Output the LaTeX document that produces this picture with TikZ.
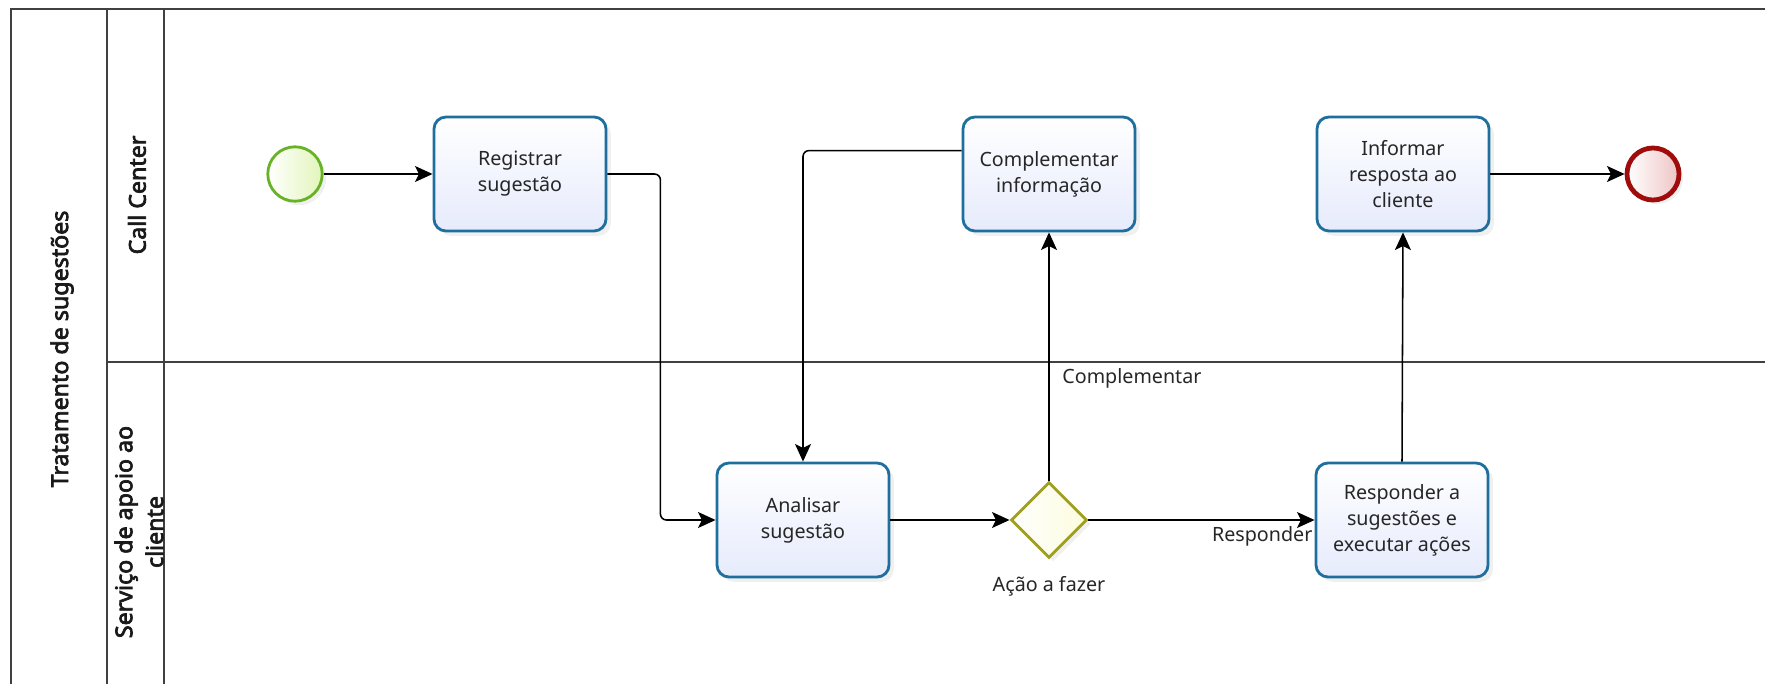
\documentclass[tikz,border=0pt]{standalone}
\usepackage{fontspec}
\setmainfont{Noto Sans}[AutoFakeBold=3]
\usepackage{xcolor}
\usepackage{tikz}
\usetikzlibrary{arrows.meta}
\usetikzlibrary{shapes.geometric}
\usetikzlibrary{shadows}

\definecolor{taskline}{RGB}{30,110,158}
\definecolor{taskfill}{RGB}{230,235,252}
\definecolor{startline}{RGB}{104,178,38}
\definecolor{startfill}{RGB}{226,245,186}
\definecolor{endline}{RGB}{160,12,12}
\definecolor{endfill}{RGB}{238,196,196}
\definecolor{gateline}{RGB}{158,160,30}
\definecolor{gatefill}{RGB}{252,252,222}

\tikzset{
  lane/.style={draw=black!75, line width=1.4pt},
  lanetitle/.style={rotate=90, align=center, text=black!90,
    font=\bfseries\fontsize{16.5}{22}\selectfont},
  task/.style={rectangle, rounded corners=0.3cm, draw=taskline, line width=2pt,
    top color=white, bottom color=taskfill,
    minimum width=4.3cm, minimum height=2.85cm,
    align=center, text=black!85, font=\fontsize{14}{18.5}\selectfont,
    drop shadow={opacity=0.12, shadow xshift=0.12cm, shadow yshift=-0.12cm}},
  startev/.style={circle, draw=startline, line width=2pt, minimum size=1.36cm,
    left color=white, right color=startfill,
    drop shadow={opacity=0.12, shadow xshift=0.1cm, shadow yshift=-0.1cm}},
  endev/.style={circle, draw=endline, line width=3.4pt, minimum size=1.3cm,
    left color=white, right color=endfill,
    drop shadow={opacity=0.12, shadow xshift=0.1cm, shadow yshift=-0.1cm}},
  gateway/.style={diamond, aspect=1, draw=gateline, line width=2pt,
    minimum width=1.9cm, minimum height=1.9cm, inner sep=0pt,
    left color=white, right color=gatefill,
    drop shadow={opacity=0.12, shadow xshift=0.1cm, shadow yshift=-0.1cm}},
  flow/.style={-{Stealth[length=0.44cm, width=0.4cm, inset=0.1cm]},
    line width=1.1pt, rounded corners=0.15cm},
  flowlabel/.style={text=black!85, font=\fontsize{14}{18}\selectfont}
}

\begin{document}
\begin{tikzpicture}[x=0.025cm, y=-0.025cm]
\useasboundingbox (0,0) rectangle (1765,684);
\clip (0,0) rectangle (1765,684);
% pool and lanes
\draw[lane] (1775,9) -- (11,9) -- (11,690);
\draw[lane] (107,9) -- (107,690);
\draw[lane] (164,9) -- (164,690);
\draw[lane] (107,362) -- (1775,362);
\node[lanetitle] (pool) at (62,349) {Tratamento de sugestões};
\node[lanetitle] (callcenter) at (137,195) {Call Center};
\node[lanetitle] (apoio) at (139,532) {Serviço de apoio ao\\cliente};

% events, tasks and gateway
\node[startev] (start) at (295,174) {};
\node[task] (reg) at (520,174) {Registrar\\sugestão};
\node[task] (comp) at (1049,174) {Complementar\\informação};
\node[task] (inf) at (1403,174) {Informar\\resposta ao\\cliente};
\node[endev] (end) at (1653,174) {};
\node[task] (ana) at (803,520) {Analisar\\sugestão};
\node[gateway, label={[name=gwlabel, flowlabel, label distance=0.3cm]below:Ação a fazer}] (gw) at (1049,520) {};
\node[task] (resp) at (1402,520) {Responder a\\sugestões e\\executar ações};

% sequence flows
\draw[flow] (start) -- (reg);
\draw[flow] (reg.east) -- ++(53,0) |- (ana.west);
\draw[flow] (comp.165) -| (ana.north);
\draw[flow] (ana) -- (gw);
\draw[flow] (gw.north) -- node[flowlabel, pos=0.41, right=0.2cm] (lblcomp) {Complementar} (comp.south);
\draw[flow] (gw.east) -- node[flowlabel, pos=1, anchor=north east, inner sep=1pt, yshift=-0.1cm] (lblresp) {Responder} (resp.west);
\draw[flow] (resp.north) -- (inf.south);
\draw[flow] (inf) -- (end);
\end{tikzpicture}
\end{document}
